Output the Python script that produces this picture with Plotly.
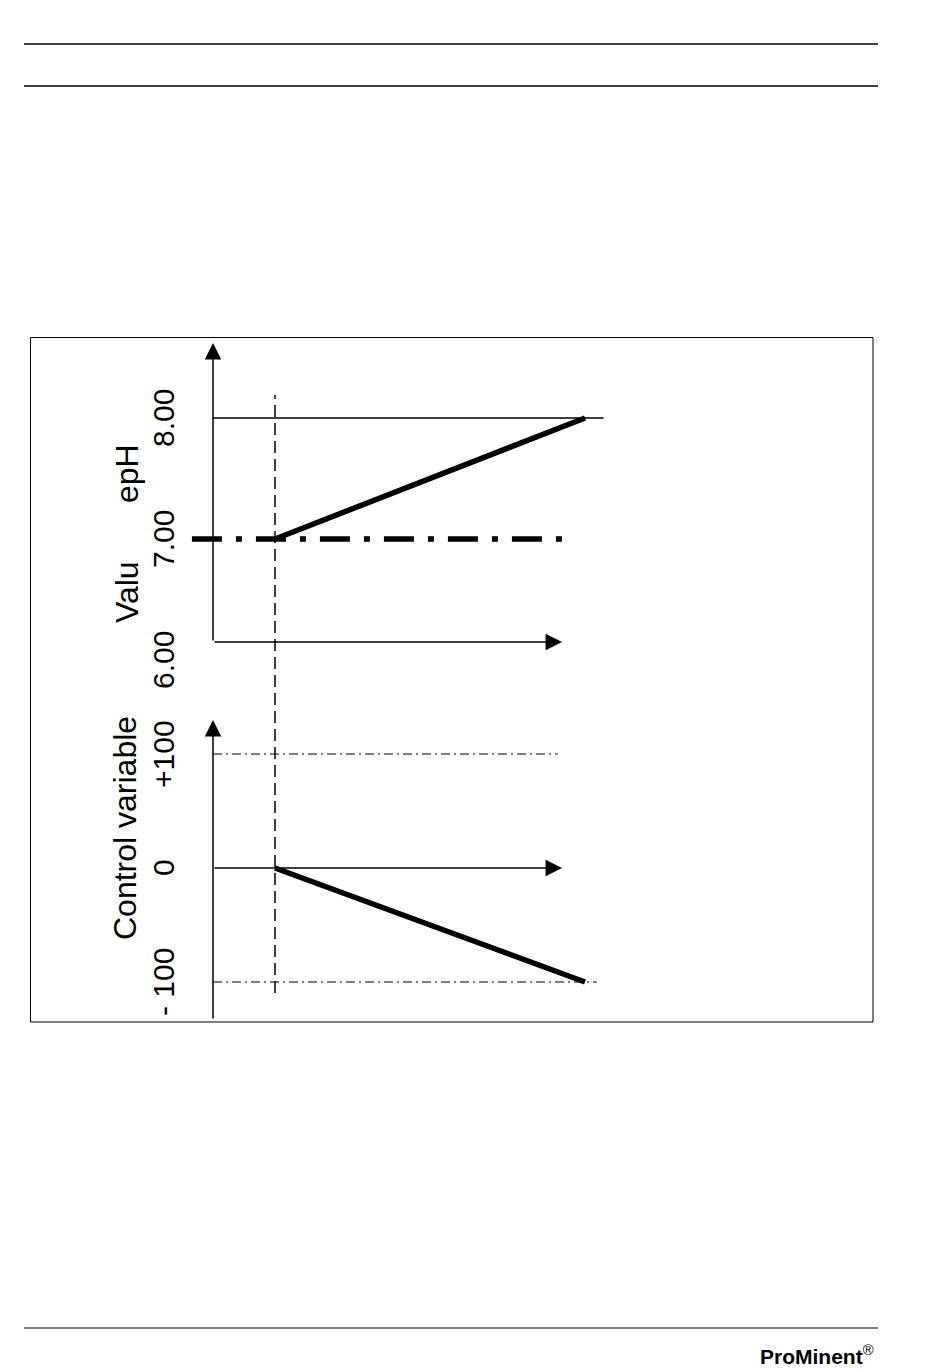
import plotly.graph_objects as go

W, H = 950, 1369

# ---------------- data ----------------
ph_ticks = [6.0, 7.0, 8.0]
ph_tick_labels = ["6.00", "7.00", "8.00"]
cv_ticks = [100, 0, -100]
cv_tick_labels = ["+100", "0", "- 100"]

setpoint_ph = 7.0
upper_limit_ph = 8.0
measured_time = [1.0, 6.0]
measured_ph = [7.0, 8.0]
control_time = [1.0, 6.0]
control_value = [0, -100]
cv_upper_limit = 100
cv_lower_limit = -100
start_time = 1.0

# ---------------- layout helpers ----------------
def px_x(p):
    return p / W

def px_y(p):
    return 1 - p / H

X0_PX, PX_PER_T = 213, 62
x_range = [(0 - X0_PX) / PX_PER_T, (W - X0_PX) / PX_PER_T]

PH7_PX, PX_PER_PH = 539, 121
ph_dom_px = (330, 700)
ph_range = [7 - (ph_dom_px[1] - PH7_PX) / PX_PER_PH, 7 + (PH7_PX - ph_dom_px[0]) / PX_PER_PH]
def ph_at(p):
    return 7 - (p - PH7_PX) / PX_PER_PH

CV0_PX, PX_PER_CV = 868, 1.14
cv_dom_px = (705, 1030)
cv_range = [(CV0_PX - cv_dom_px[1]) / PX_PER_CV, (CV0_PX - cv_dom_px[0]) / PX_PER_CV]
def cv_at(p):
    return (CV0_PX - p) / PX_PER_CV

PH_BASE = ph_at(642)
PH_TOP = ph_at(343)
CV_BOTTOM = cv_at(1020)
CV_TOP = cv_at(720)
X_ARROW_END = 5.63

FONT = "Liberation Sans, Arial, sans-serif"

fig = go.Figure()

def line(x, y, yaxis, width, dash="solid"):
    fig.add_trace(go.Scatter(x=x, y=y, xaxis="x", yaxis=yaxis, mode="lines",
                             line=dict(color="black", width=width, dash=dash),
                             hoverinfo="skip", showlegend=False))

# upper panel (pH)
line([0, 6.3], [upper_limit_ph, upper_limit_ph], "y", 1.5)
line([-0.34, 5.76], [setpoint_ph, setpoint_ph], "y", 5.5, "30px,14px,6px,14px")
line(measured_time, measured_ph, "y", 5.5)

# lower panel (control variable)
line([0, 5.56], [cv_upper_limit, cv_upper_limit], "y2", 1, "9px,4px,2px,4px")
line([0, 6.19], [cv_lower_limit, cv_lower_limit], "y2", 1, "9px,4px,2px,4px")
line(control_time, control_value, "y2", 5.5)

annotations = []

def arrow(x, y, ax, ay, yref):
    annotations.append(dict(x=x, y=y, ax=ax, ay=ay, xref="x", yref=yref,
                            axref="x", ayref=yref, text="", showarrow=True,
                            arrowhead=2, arrowwidth=1.5, arrowsize=2.2,
                            arrowcolor="black"))

arrow(0, PH_TOP, 0, PH_BASE, "y")
arrow(X_ARROW_END, PH_BASE, 0, PH_BASE, "y")
arrow(0, CV_TOP, 0, CV_BOTTOM, "y2")
arrow(X_ARROW_END, 0, 0, 0, "y2")

def rot_text(text, xpx, y, yref, size):
    annotations.append(dict(x=px_x(xpx), y=y, xref="paper", yref=yref, text=text,
                            textangle=-90, showarrow=False, xanchor="center",
                            yanchor="middle", font=dict(family=FONT, size=size, color="black")))

for v, t in zip(ph_ticks, ph_tick_labels):
    rot_text(t, 163, v, "y", 30)
for v, t in zip(cv_ticks, cv_tick_labels):
    rot_text(t, 163, v, "y2", 30)

rot_text("Valu", 127, px_y(592), "paper", 32)
rot_text("epH", 127, px_y(474), "paper", 32)
rot_text("Control variable", 125, px_y(828), "paper", 32)

annotations.append(dict(x=px_x(876), y=px_y(1355), xref="paper", yref="paper",
                        text="<b>ProMinent</b><sup>®</sup>", showarrow=False,
                        xanchor="right", yanchor="middle",
                        font=dict(family=FONT, size=21, color="black")))

shapes = [
    dict(type="line", xref="paper", yref="paper", x0=px_x(24), x1=px_x(878),
         y0=px_y(44), y1=px_y(44), line=dict(color="black", width=1.5)),
    dict(type="line", xref="paper", yref="paper", x0=px_x(24), x1=px_x(878),
         y0=px_y(86), y1=px_y(86), line=dict(color="black", width=1.5)),
    dict(type="line", xref="paper", yref="paper", x0=px_x(24), x1=px_x(878),
         y0=px_y(1328), y1=px_y(1328), line=dict(color="black", width=1)),
    dict(type="rect", xref="paper", yref="paper", x0=px_x(30.5), x1=px_x(873),
         y0=px_y(1022), y1=px_y(337.5), line=dict(color="black", width=1)),
    dict(type="line", xref="x", yref="paper", x0=start_time, x1=start_time,
         y0=px_y(993), y1=px_y(395), line=dict(color="black", width=1.5, dash="12px,6px")),
]

axis_common = dict(visible=False, showgrid=False, zeroline=False, fixedrange=True)
fig.update_layout(
    width=W, height=H, margin=dict(l=0, r=0, t=0, b=0),
    paper_bgcolor="white", plot_bgcolor="rgba(0,0,0,0)",
    xaxis=dict(domain=[0, 1], range=x_range, **axis_common),
    yaxis=dict(domain=[px_y(ph_dom_px[1]), px_y(ph_dom_px[0])], range=ph_range,
               anchor="x", **axis_common),
    yaxis2=dict(domain=[px_y(cv_dom_px[1]), px_y(cv_dom_px[0])], range=cv_range,
                anchor="x", **axis_common),
    annotations=annotations, shapes=shapes, showlegend=False,
)

fig.write_html("out.html", config={"displayModeBar": False},
               post_script="document.body.style.margin='0px';document.body.style.overflow='hidden';")
